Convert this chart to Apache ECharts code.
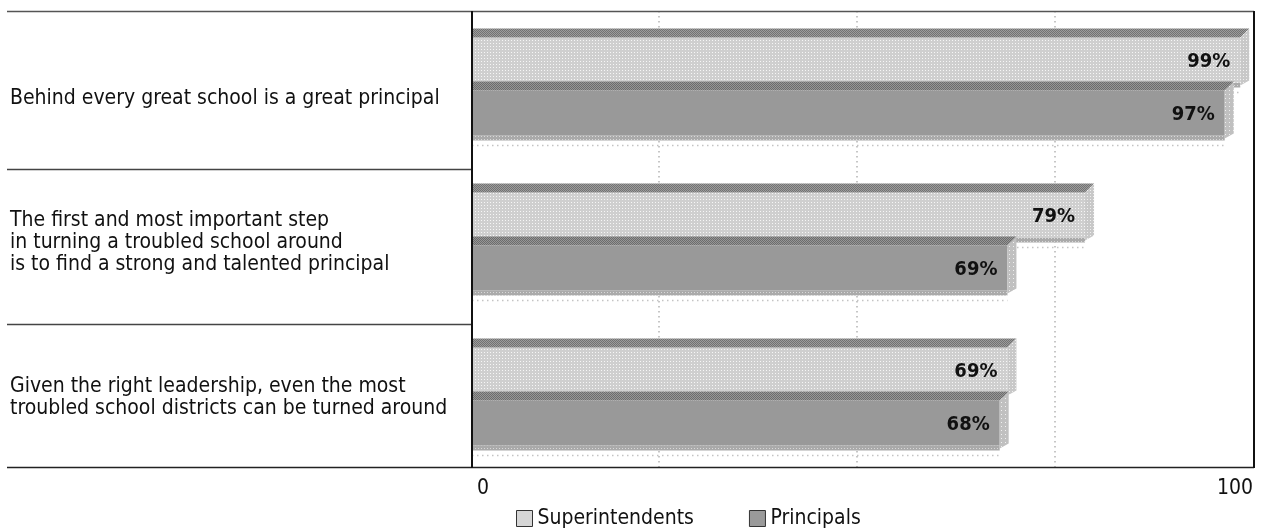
<!DOCTYPE html>
<html>
<head>
<meta charset="utf-8">
<script src="https://cdn.jsdelivr.net/npm/echarts@6/dist/echarts.min.js"></script>
<style>
  html, body { margin: 0; padding: 0; background: #fff; }
  #chart { width: 1263px; height: 529px; }
</style>
</head>
<body>
<div id="chart"></div>
<script>
// Statements shown in the left-hand column, top to bottom
const statements = [
  'Behind every great school is a great principal',
  'The first and most important step\nin turning a troubled school around\nis to find a strong and talented principal',
  'Given the right leadership, even the most\ntroubled school districts can be turned around'
];
// Percent who agree
const superintendents = [99, 79, 69];
const principals = [97, 69, 68];
const seriesNames = ['Superintendents', 'Principals'];
// Value-axis scale
const axisMin = 0;
const axisMax = 100;
const gridStep = 25;

const FONT = '"Liberation Sans Narrow", "DejaVu Sans Condensed", "Arial Narrow", sans-serif';

// Small repeating textures for the bar faces
function tile(size, base, dots) {
  const c = document.createElement('canvas');
  c.width = size; c.height = size;
  const g = c.getContext('2d');
  g.fillStyle = base; g.fillRect(0, 0, size, size);
  dots.forEach(function (d) { g.fillStyle = d[2]; g.fillRect(d[0], d[1], 1, 1); });
  return { image: c, repeat: 'repeat' };
}
const tex = {
  supFront: tile(3, '#cfcfcf', [[1, 1, '#f6f6f6']]),
  supTop: tile(2, '#727272', [[1, 0, '#9c9c9c'], [0, 1, '#9c9c9c']]),
  supSide: tile(3, '#c8c8c8', [[1, 1, '#f0f0f0']]),
  prinFront: tile(2, '#999999', []),
  prinTop: tile(2, '#6c6c6c', [[1, 0, '#969696'], [0, 1, '#969696']]),
  prinSide: tile(4, '#c0c0c0', [[1, 2, '#f0f0f0']]),
  band: tile(3, '#aaaaaa', [[1, 1, '#d8d8d8']])
};

// Vertical placement of each bar within its category band, and its look
const barStyles = [
  { top: -50, bottom: -5, front: tex.supFront, topFace: tex.supTop, side: tex.supSide },
  { top: 3, bottom: 48, front: tex.prinFront, topFace: tex.prinTop, side: tex.prinSide }
];
const DEPTH = 9;

function makeRender(styleIdx) {
  const s = barStyles[styleIdx];
  return function (params, api) {
    const v = api.value(0);
    const cat = api.value(1);
    const p0 = api.coord([axisMin, cat]);
    const p1 = api.coord([v, cat]);
    const x0 = p0[0], xe = p1[0], cy = p0[1];
    const top = cy + s.top, bot = cy + s.bottom;
    return {
      type: 'group',
      children: [
        { type: 'line', shape: { x1: x0, y1: bot + 10, x2: xe, y2: bot + 10 },
          style: { stroke: '#c4c4c4', lineWidth: 1.5, lineDash: [1.5, 3.5] } },
        { type: 'rect', shape: { x: x0, y: bot, width: xe - x0, height: 5 },
          style: { fill: tex.band } },
        { type: 'rect', shape: { x: x0, y: top, width: xe - x0, height: bot - top },
          style: { fill: s.front } },
        { type: 'polygon', shape: { points: [[x0, top], [xe, top], [xe + DEPTH, top - DEPTH], [x0, top - DEPTH]] },
          style: { fill: s.topFace } },
        { type: 'polygon', shape: { points: [[xe, top], [xe + DEPTH, top - DEPTH], [xe + DEPTH, bot - 2], [xe, bot + 3]] },
          style: { fill: s.side } },
        { type: 'text', x: xe - 10, y: (top + bot) / 2 + 2,
          style: { text: v + '%', align: 'right', verticalAlign: 'middle',
                   font: 'bold 20px ' + FONT, fill: '#111' } }
      ]
    };
  };
}

const chart = echarts.init(document.getElementById('chart'), null, { renderer: 'canvas' });

chart.setOption({
  animation: false,
  backgroundColor: '#fff',
  grid: [
    // scale, gridlines and end labels
    { left: 461, right: 10, top: 11, bottom: 62 },
    // bars and statements
    { left: 472, right: 15, top: 10, height: 465 }
  ],
  xAxis: [
    { gridIndex: 0, type: 'value', min: axisMin, max: axisMax, interval: gridStep,
      axisLine: { show: false }, axisTick: { show: false },
      splitLine: { show: true, showMinLine: false, showMaxLine: false,
        lineStyle: { color: '#b4b4b4', width: 1.5, type: [1.5, 3.5] } },
      axisLabel: { margin: 11, fontFamily: FONT, fontSize: 21, color: '#111',
        padding: [0, 0, 0, 16], alignMinLabel: 'left', alignMaxLabel: 'right',
        formatter: function (v) { return (v === axisMin || v === axisMax) ? String(v) : ''; } } },
    { gridIndex: 1, type: 'value', min: axisMin, max: axisMax, show: false }
  ],
  yAxis: [
    { gridIndex: 0, type: 'category', data: statements, show: false },
    { gridIndex: 1, type: 'category', data: statements, inverse: true,
      axisLine: { show: false }, axisTick: { show: false },
      axisLabel: { align: 'left', margin: 462, fontFamily: FONT, fontSize: 21,
        lineHeight: 22, color: '#111',
        formatter: function (v, i) { return i === 0 ? '{first|' + v + '}' : v; },
        rich: { first: { fontFamily: FONT, fontSize: 21, lineHeight: 22, color: '#111',
          padding: [22, 0, 0, 0] } } } }
  ],
  legend: {
    left: 511, top: 503, itemWidth: 16, itemHeight: 16, itemGap: 55, icon: 'rect',
    textStyle: { fontFamily: FONT, fontSize: 21, color: '#111' },
    data: [
      { name: seriesNames[0], itemStyle: { color: '#d6d6d6', borderColor: '#333', borderWidth: 1 } },
      { name: seriesNames[1], itemStyle: { color: '#9a9a9a', borderColor: '#333', borderWidth: 1 } }
    ]
  },
  graphic: [
    { type: 'line', shape: { x1: 7, y1: 11.5, x2: 1254, y2: 11.5 }, style: { stroke: '#555', lineWidth: 1.5 }, z: 10 },
    { type: 'line', shape: { x1: 7, y1: 467.5, x2: 1254, y2: 467.5 }, style: { stroke: '#222', lineWidth: 1.5 }, z: 10 },
    { type: 'line', shape: { x1: 7, y1: 169.5, x2: 472, y2: 169.5 }, style: { stroke: '#444', lineWidth: 1.3 }, z: 10 },
    { type: 'line', shape: { x1: 7, y1: 324.5, x2: 472, y2: 324.5 }, style: { stroke: '#444', lineWidth: 1.3 }, z: 10 },
    { type: 'line', shape: { x1: 472, y1: 11, x2: 472, y2: 468 }, style: { stroke: '#111', lineWidth: 2 }, z: 10 },
    { type: 'line', shape: { x1: 1254, y1: 11, x2: 1254, y2: 468 }, style: { stroke: '#111', lineWidth: 2 }, z: 10 }
  ],
  series: [
    { name: seriesNames[0], type: 'custom', xAxisIndex: 1, yAxisIndex: 1,
      itemStyle: { color: '#d6d6d6' },
      encode: { x: 0, y: 1 },
      data: superintendents.map(function (v, i) { return [v, i]; }),
      renderItem: makeRender(0) },
    { name: seriesNames[1], type: 'custom', xAxisIndex: 1, yAxisIndex: 1,
      itemStyle: { color: '#9a9a9a' },
      encode: { x: 0, y: 1 },
      data: principals.map(function (v, i) { return [v, i]; }),
      renderItem: makeRender(1) }
  ]
});
</script>
</body>
</html>
